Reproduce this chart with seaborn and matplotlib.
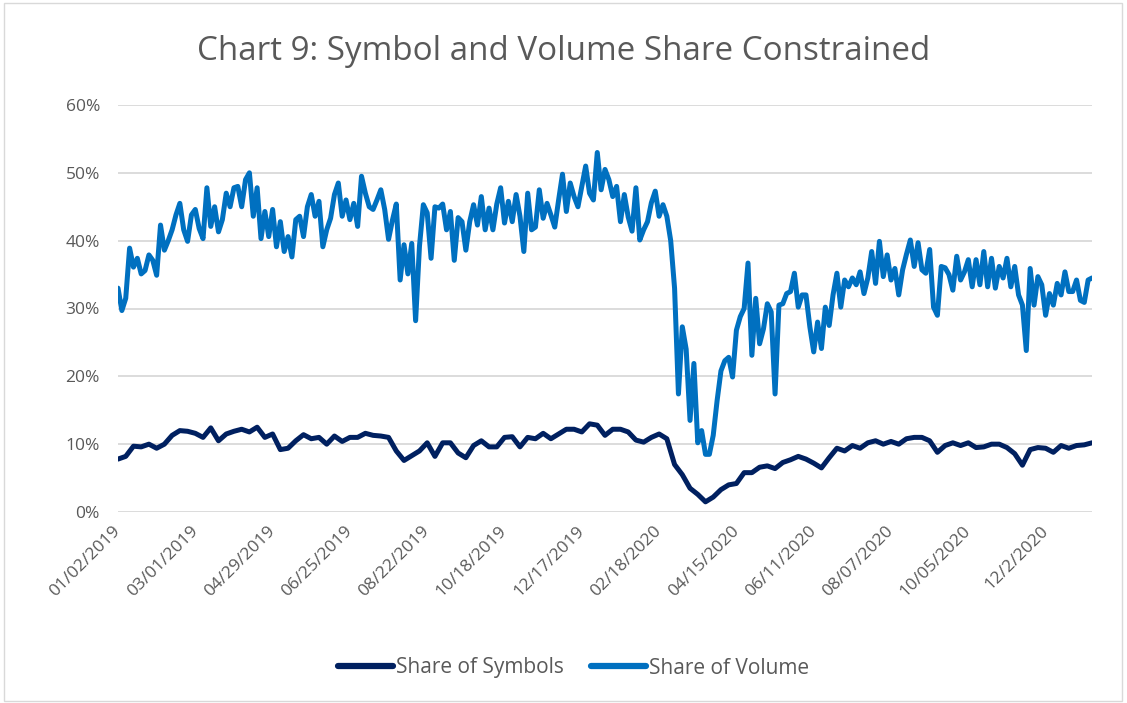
import numpy as np
import pandas as pd
import matplotlib
matplotlib.use("Agg")
import matplotlib.pyplot as plt
import seaborn as sns
from matplotlib.patches import Rectangle
from matplotlib.ticker import FuncFormatter, FixedLocator
from matplotlib.lines import Line2D

# ---------------- data ----------------
title = "Chart 9: Symbol and Volume Share Constrained"
date_labels = ["01/02/2019", "03/01/2019", "04/29/2019", "06/25/2019", "08/22/2019",
               "10/18/2019", "12/17/2019", "02/18/2020", "04/15/2020", "06/11/2020",
               "08/07/2020", "10/05/2020", "12/2/2020"]
label_every = 40          # trading days between category labels
n_days = 505              # trading days 2019-2020
volume_step = 2           # volume values read every 2 trading days
symbols_step = 4          # symbol values read every 4 trading days
series_names = ["Share of Symbols", "Share of Volume"]
y_ticks = [0, 10, 20, 30, 40, 50, 60]

# Share of Volume (%)
volume = [
    33.0, 29.7, 31.5, 38.9, 36.1, 37.4, 35.1, 35.6, 37.9, 37.1,
    34.9, 42.3, 38.6, 40.0, 41.6, 43.8, 45.5, 41.6, 39.9, 43.8,
    44.6, 41.8, 40.3, 47.8, 42.1, 45.0, 41.3, 43.1, 47.0, 45.0,
    47.8, 48.0, 45.0, 49.0, 50.0, 43.6, 47.8, 40.3, 44.3, 40.6,
    44.6, 39.1, 42.8, 38.4, 40.6, 37.6, 43.1, 43.6, 40.6, 45.0,
    46.8, 43.6, 45.8, 39.1, 41.6, 43.3, 46.8, 48.5, 43.6, 46.0,
    43.1, 45.5, 42.1,
    49.5, 47.0, 45.0, 44.6, 46.0, 47.5, 44.6, 40.2, 43.0, 45.4,
    34.2, 39.4, 35.1, 39.6, 28.2, 39.2, 45.3, 44.1, 37.4, 45.0,
    44.8, 45.4, 41.6, 44.3, 37.1, 43.4, 42.8, 38.6, 42.8, 45.3,
    42.3, 46.5, 41.6, 44.8, 41.6, 45.4, 47.8, 42.6, 45.8, 42.8,
    46.8, 43.6, 38.4, 47.0, 41.6, 42.0, 47.5, 43.3, 45.5, 43.8,
    42.0, 46.0, 49.8, 44.3, 48.5, 46.5, 45.0, 48.0, 51.0, 47.0,
    46.0, 53.0, 47.5, 50.5,
    49.0, 46.5, 48.0, 42.8, 46.8, 43.5, 41.4, 47.8, 40.1, 41.6,
    42.8, 45.6, 47.3, 43.6, 45.3, 43.6, 40.0, 33.0, 17.4, 27.3,
    24.0, 13.5, 21.9, 10.2, 12.0, 8.5, 8.5, 11.3, 16.4, 20.8,
    22.3, 22.8, 19.9, 26.8, 28.8, 30.0, 36.7, 23.1, 31.5, 24.8,
    27.0, 30.7, 29.5, 17.4, 30.5, 30.7, 32.2, 32.5, 35.2, 30.2,
    32.0, 32.0, 27.3, 23.6, 28.0, 24.1, 30.2, 27.5, 32.0, 35.2,
    30.2, 34.2, 33.2,
    34.5, 33.5, 35.4, 32.2, 34.5, 38.4, 33.7, 39.9, 34.7, 37.9,
    34.2, 35.9, 32.0, 35.7, 38.0, 40.1, 36.2, 39.7, 35.7, 35.2,
    38.7, 30.2, 29.0, 36.2, 36.0, 35.0, 32.7, 37.7, 34.2, 35.4,
    37.2, 33.2, 37.2, 33.5, 38.4, 33.2, 37.4, 33.0, 36.2, 34.5,
    37.4, 33.2, 36.2, 32.0, 30.5, 23.8, 35.9, 30.5, 34.7, 33.5,
    29.0, 32.2, 30.5, 33.7, 32.0, 35.4, 32.5, 32.5, 34.2, 31.2,
    30.9, 34.2, 34.5,
]

# Share of Symbols (%)
symbols = [
    7.8, 8.2, 9.7, 9.6, 10.0, 9.4, 10.0, 11.3, 12.0, 11.9,
    11.6, 11.0, 12.4, 10.5, 11.5, 11.9, 12.2, 11.8, 12.5, 11.0,
    11.5, 9.2, 9.4, 10.5, 11.4, 10.8, 11.0, 10.0, 11.2, 10.4,
    11.0, 11.0, 11.6, 11.3, 11.2, 11.0, 9.0, 7.6, 8.3, 9.0,
    10.2, 8.2, 10.2, 10.2, 8.7, 8.0, 9.8, 10.5, 9.6, 9.6,
    11.0, 11.1, 9.6, 11.0, 10.8, 11.6, 10.8, 11.5, 12.2, 12.2,
    11.8, 13.0, 12.8, 11.3,
    12.2, 12.2, 11.8, 10.6, 10.3, 11.0, 11.5, 10.8, 7.0, 5.5,
    3.5, 2.6, 1.5, 2.2, 3.3, 4.0, 4.2, 5.8, 5.8, 6.6,
    6.8, 6.4, 7.3, 7.7, 8.2, 7.8, 7.2, 6.5, 8.0, 9.4,
    9.0, 9.8, 9.4, 10.2, 10.5, 10.0, 10.4, 10.0, 10.8, 11.0,
    11.0, 10.5, 8.8, 9.8, 10.2, 9.8, 10.2, 9.5, 9.6, 10.0,
    10.0, 9.5, 8.6, 6.9, 9.2, 9.5, 9.4, 8.8, 9.8, 9.4,
    9.8, 9.9, 10.2,
]

# ---------------- styling ----------------
sns.set_theme(style="white")
plt.rcParams["font.family"] = ["Open Sans", "DejaVu Sans"]

colors = {"Share of Symbols": "#002060", "Share of Volume": "#0070C0"}
text_gray = "#595959"
grid_gray = "#D9D9D9"

W, H = 1127, 703
fig = plt.figure(figsize=(W / 100, H / 100), dpi=100)
ax = fig.add_axes([118 / W, 1 - 512 / H, (1092 - 118) / W, (512 - 105) / H])

df_vol = pd.DataFrame({"day": np.arange(len(volume)) * volume_step, "share": volume})
df_sym = pd.DataFrame({"day": np.arange(len(symbols)) * symbols_step, "share": symbols})

for spine in ax.spines.values():
    spine.set_visible(False)
ax.set_axisbelow(True)
ax.yaxis.grid(True, color=grid_gray, linewidth=1.3)
ax.xaxis.grid(False)

line_kw = dict(linewidth=3.6, solid_capstyle="round", solid_joinstyle="round")
sns.lineplot(data=df_sym, x="day", y="share", color=colors["Share of Symbols"],
             ax=ax, legend=False, **line_kw)
sns.lineplot(data=df_vol, x="day", y="share", color=colors["Share of Volume"],
             ax=ax, legend=False, **line_kw)

ax.set_xlim(0, n_days - 1)
ax.set_ylim(0, 60)
ax.yaxis.set_major_locator(FixedLocator(y_ticks))
ax.yaxis.set_major_formatter(FuncFormatter(lambda v, p: f"{v:.0f}%"))
ax.set_xticks(np.arange(len(date_labels)) * label_every)
ax.set_xticklabels(date_labels, rotation=45, ha="right", va="center",
                   rotation_mode="anchor")
ax.tick_params(axis="x", length=0, pad=12, labelsize=12.5, labelcolor=text_gray)
ax.tick_params(axis="y", length=0, pad=13, labelsize=12.5, labelcolor=text_gray)
ax.set_xlabel("")
ax.set_ylabel("")

fig.text(0.5, 1 - 51 / H, title, ha="center", va="center", fontsize=23.9, color=text_gray)

handles = [Line2D([0], [0], color=colors[n], linewidth=4.5, solid_capstyle="round")
           for n in series_names]
fig.legend(handles, series_names, loc="center", bbox_to_anchor=(0.5 + 10 / W, 1 - 668 / H),
           ncol=2, frameon=False, fontsize=15, labelcolor=text_gray,
           handlelength=2.65, handletextpad=0.15, columnspacing=1.3)

fig.add_artist(Rectangle((4 / W, 2 / H), (W - 9) / W, (H - 5) / H, transform=fig.transFigure,
                         fill=False, edgecolor=grid_gray, linewidth=1.0))

fig.savefig("out.png", dpi=100)
